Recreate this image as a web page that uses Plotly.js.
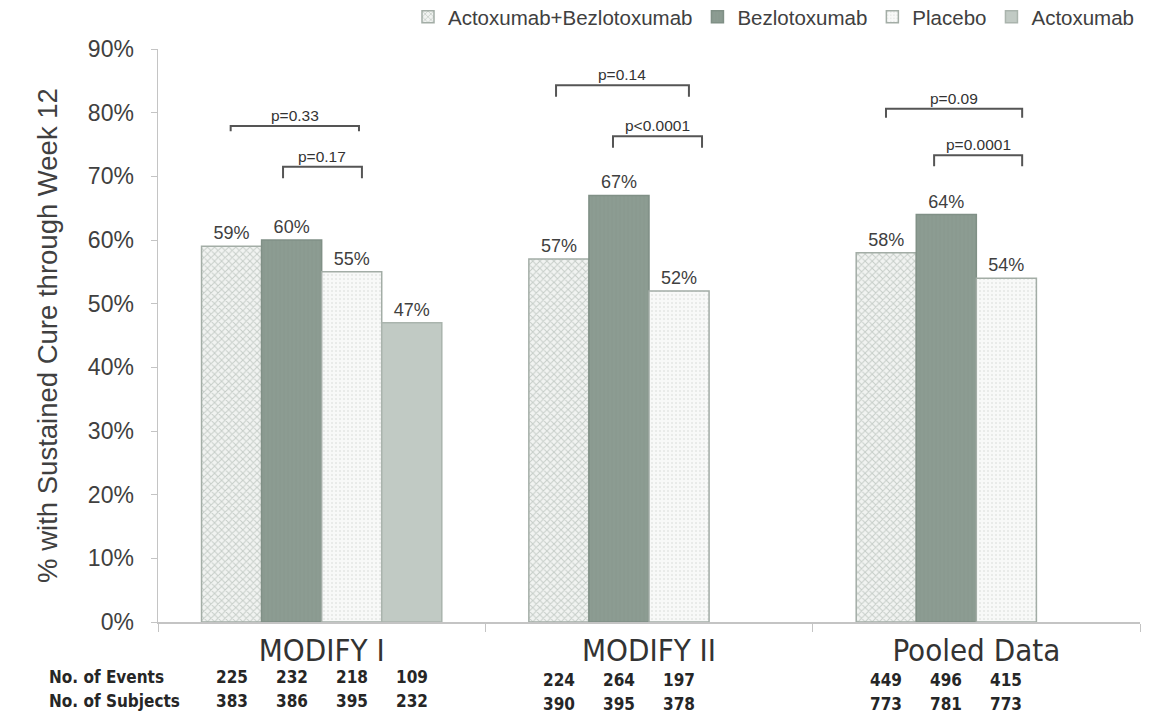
<!DOCTYPE html>
<html>
<head>
<meta charset="utf-8">
<script src="https://cdn.plot.ly/plotly-3.0.1.min.js"></script>
<style>
  html, body { margin: 0; padding: 0; background: #ffffff; }
  #chart { width: 1153px; height: 715px; }
</style>
</head>
<body>
<div id="chart"></div>
<script>
// ---------- data ----------
const categories = ['MODIFY I', 'MODIFY II', 'Pooled Data'];
const seriesNames = ['Actoxumab+Bezlotoxumab', 'Bezlotoxumab', 'Placebo', 'Actoxumab'];

const comboValues   = [0.59, 0.57, 0.58];
const bezloValues   = [0.60, 0.67, 0.64];
const placeboValues = [0.55, 0.52, 0.54];
const actoValues    = [0.47, null, null];

const comboEvents   = [225, 224, 449];
const bezloEvents   = [232, 264, 496];
const placeboEvents = [218, 197, 415];
const actoEvents    = [109, null, null];

const comboSubjects   = [383, 390, 773];
const bezloSubjects   = [386, 395, 781];
const placeboSubjects = [395, 378, 773];
const actoSubjects    = [232, null, null];

const rowLabels = ['No. of Events', 'No. of Subjects'];

// p-value brackets
const pLabels     = ['p=0.33', 'p=0.17', 'p=0.14', 'p<0.0001', 'p=0.09', 'p=0.0001'];
const pCategory   = [0, 0, 1, 1, 2, 2];
const pLevel      = [0.779, 0.715, 0.843, 0.763, 0.806, 0.733];
const pTipLevel   = [0.771, 0.697, 0.825, 0.745, 0.792, 0.716];
const pStartOff   = [-0.278, -0.118, -0.284, -0.110, -0.276, -0.129];
const pEndOff     = [0.114, 0.123, 0.122, 0.162, 0.140, 0.140];

// ---------- style ----------
const FONT = 'Liberation Sans, Arial, Helvetica, sans-serif';
const NARROW = 'Liberation Sans Narrow, Arial Narrow, DejaVu Sans Condensed, sans-serif';
const TXT = '#404040';
const OUTLINE = '#a3ada6';
const BARGAP = 0.266;
const NSLOTS = 4;
const barW = (1 - BARGAP) / NSLOTS;

const values   = [comboValues, bezloValues, placeboValues, actoValues];
const events   = [comboEvents, bezloEvents, placeboEvents, actoEvents];
const subjects = [comboSubjects, bezloSubjects, placeboSubjects, actoSubjects];

const markers = [
  { color: '#eceeec', line: { color: OUTLINE, width: 1.5 },
    pattern: { shape: 'x', fgcolor: '#c6cdc8', bgcolor: '#f1f3f1', size: 5, solidity: 0.35 } },
  { color: '#8b9b91', line: { color: '#809086', width: 1.5 },
    pattern: { shape: '|', fgcolor: '#86968b', bgcolor: '#8c9c92', size: 4, solidity: 0.2 } },
  { color: '#f7f8f7', line: { color: OUTLINE, width: 1.5 },
    pattern: { shape: '.', fgcolor: '#e4e7e5', bgcolor: '#f8f9f8', size: 4, solidity: 0.2 } },
  { color: '#c1cac4', line: { color: '#aab4ad', width: 1.5 } }
];

const traces = seriesNames.map((name, i) => ({
  type: 'bar',
  name: name,
  x: categories,
  y: values[i],
  marker: markers[i],
  text: values[i].map(v => v == null ? '' : Math.round(v * 100) + '%'),
  textposition: 'outside',
  textfont: { family: FONT, size: 18, color: TXT },
  cliponaxis: false,
  hoverinfo: 'name+y'
}));

const annotations = [];
const shapes = [];

// table row labels
const rowY = [-0.096, -0.138];
rowLabels.forEach((lab, r) => {
  annotations.push({
    xref: 'paper', yref: 'paper', x: -0.113, y: rowY[r],
    xanchor: 'left', yanchor: 'middle', showarrow: false,
    text: '<b>' + lab + '</b>',
    font: { family: NARROW, size: 17, color: '#262626' }
  });
});

// table numbers
[events, subjects].forEach((tbl, r) => {
  tbl.forEach((arr, i) => {
    arr.forEach((n, c) => {
      if (n == null) return;
      annotations.push({
        xref: 'x', yref: 'paper',
        x: c + (i - (NSLOTS - 1) / 2) * barW,
        y: rowY[r], yshift: c === 0 ? 0 : -3,
        xanchor: 'center', yanchor: 'middle', showarrow: false,
        text: '<b>' + n + '</b>',
        font: { family: NARROW, size: 17, color: '#262626' }
      });
    });
  });
});

// p-value brackets
pLabels.forEach((lab, k) => {
  const x0 = pCategory[k] + pStartOff[k];
  const x1 = pCategory[k] + pEndOff[k];
  shapes.push({
    type: 'path', xref: 'x', yref: 'y',
    path: `M ${x0} ${pTipLevel[k]} L ${x0} ${pLevel[k]} L ${x1} ${pLevel[k]} L ${x1} ${pTipLevel[k]}`,
    line: { color: '#555555', width: 2 }
  });
  annotations.push({
    xref: 'x', yref: 'y', x: (x0 + x1) / 2, y: pLevel[k],
    xanchor: 'center', yanchor: 'bottom', yshift: 0, showarrow: false,
    text: lab, font: { family: FONT, size: 15.5, color: '#333333' }
  });
});

const layout = {
  width: 1153, height: 715,
  margin: { l: 158, r: 13, t: 49, b: 93, autoexpand: false },
  paper_bgcolor: '#ffffff', plot_bgcolor: '#ffffff',
  barmode: 'group', bargap: BARGAP, bargroupgap: 0,
  font: { family: FONT, color: TXT },
  showlegend: true,
  legend: {
    orientation: 'h', x: 1.0, xanchor: 'right', y: 1.021, yanchor: 'bottom',
    font: { family: FONT, size: 20.5, color: TXT },
    itemwidth: 30, traceorder: 'normal', bgcolor: 'rgba(0,0,0,0)'
  },
  xaxis: {
    type: 'category',
    tickfont: { family: NARROW, size: 31, color: '#333333' },
    showline: true, linecolor: '#c4c4c4', linewidth: 1.5,
    ticks: 'outside', tickson: 'boundaries', ticklen: 8, tickcolor: '#c4c4c4',
    ticklabelstandoff: 0,
    showgrid: false, zeroline: false, fixedrange: true
  },
  yaxis: {
    range: [0, 0.9], dtick: 0.1, tickformat: '.0%',
    tickfont: { family: FONT, size: 23, color: TXT },
    showline: true, linecolor: '#c4c4c4', linewidth: 1.5,
    ticks: 'outside', ticklen: 6, tickcolor: '#c4c4c4',
    ticklabelstandoff: 12,
    showgrid: false, zeroline: false, fixedrange: true,
    title: { text: '% with Sustained Cure through Week 12',
             font: { family: FONT, size: 27.5, color: TXT }, standoff: 22 }
  },
  annotations: annotations,
  shapes: shapes
};

Plotly.newPlot('chart', traces, layout, { displayModeBar: false, staticPlot: true });
</script>
</body>
</html>
